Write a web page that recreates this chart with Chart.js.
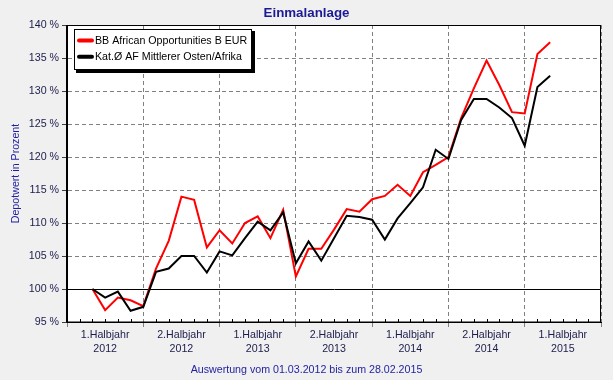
<!DOCTYPE html>
<html>
<head>
<meta charset="utf-8">
<script src="https://cdn.jsdelivr.net/npm/chart.js@4"></script>
<style>
html,body{margin:0;padding:0;background:#F0F0F0;}
#wrap{width:613px;height:380px;position:relative;}
</style>
</head>
<body>
<div id="wrap"><canvas id="c" width="613" height="380"></canvas></div>
<script>
// ---- text ----
const chartTitle = 'Einmalanlage';
const footerText = 'Auswertung vom 01.03.2012 bis zum 28.02.2015';
const yAxisTitle = 'Depotwert in Prozent';
const seriesNames = ['BB African Opportunities B EUR', 'Kat.\u00D8 AF Mittlerer Osten/Afrika'];

// ---- categories (monthly valuation dates) ----
const months = [
  '2012-03','2012-04','2012-05','2012-06','2012-07','2012-08','2012-09','2012-10','2012-11','2012-12',
  '2013-01','2013-02','2013-03','2013-04','2013-05','2013-06','2013-07','2013-08','2013-09','2013-10','2013-11','2013-12',
  '2014-01','2014-02','2014-03','2014-04','2014-05','2014-06','2014-07','2014-08','2014-09','2014-10','2014-11','2014-12',
  '2015-01','2015-02','2015-03'
];

// ---- series values (% of initial investment) ----
const fundValues = [
  100.0, 96.8, 98.7, 98.3, 97.4, 103.1, 107.3, 114.0, 113.5, 106.3,
  108.9, 106.9, 110.0, 111.0, 107.7, 112.0, 101.9, 106.1, 106.1, 109.0, 112.1, 111.7,
  113.6, 114.1, 115.8, 114.1, 117.7, 118.8, 120.0, 125.9, 130.4, 134.6, 130.9, 126.8,
  126.6, 135.6, 137.4
];
const categoryValues = [
  100.0, 98.7, 99.6, 96.7, 97.3, 102.6, 103.1, 105.0, 105.0, 102.5,
  105.7, 105.1, 107.7, 110.2, 108.9, 111.6, 103.9, 107.2, 104.3, 107.7, 111.1, 110.9,
  110.5, 107.5, 110.7, 113.0, 115.4, 121.1, 119.7, 125.6, 128.8, 128.8, 127.5, 125.9,
  121.7, 130.6, 132.3
];

// ---- axis labels ----
const halfYearLabels = [
  ['1.Halbjahr','2012'], ['2.Halbjahr','2012'], ['1.Halbjahr','2013'], ['2.Halbjahr','2013'],
  ['1.Halbjahr','2014'], ['2.Halbjahr','2014'], ['1.Halbjahr','2015']
];
const yTickValues = [95, 100, 105, 110, 115, 120, 125, 130, 135, 140];

// month offset since Jan 2012
function monthOffset(s) {
  const [y, m] = s.split('-').map(Number);
  return (y - 2012) * 12 + (m - 1);
}
const toPoints = vals => vals.map((v, i) => ({ x: monthOffset(months[i]), y: v }));

const FONT = "'Liberation Sans', Arial, sans-serif";
const TXT = '#1c1c4c';
const BLUE = '#1e1ea0';

const decor = {
  id: 'decor',
  beforeDraw(chart) {
    const { ctx, chartArea: a } = chart;
    ctx.save();
    ctx.fillStyle = '#F0F0F0';
    ctx.fillRect(0, 0, chart.width, chart.height);
    ctx.fillStyle = '#FFFFFF';
    ctx.fillRect(a.left, a.top, a.right - a.left, a.bottom - a.top);
    ctx.restore();
  },
  afterDraw(chart) {
    const { ctx, chartArea: a } = chart;
    const xs = chart.scales.x;
    ctx.save();
    // plot frame
    ctx.strokeStyle = '#000';
    ctx.lineWidth = 1;
    ctx.strokeRect(Math.round(a.left) - 0.5, Math.round(a.top) + 0.5, Math.round(a.right - a.left), Math.round(a.bottom - a.top) - 0.5);
    // minor monthly ticks
    ctx.beginPath();
    for (let m = 1; m < 42; m++) {
      if (m % 6 === 0) continue;
      const px = Math.round(xs.getPixelForValue(m)) + 0.5;
      ctx.moveTo(px, a.bottom - 3);
      ctx.lineTo(px, a.bottom);
    }
    ctx.stroke();

    // legend box
    ctx.font = '10.67px ' + FONT;
    const ds = chart.data.datasets;
    let maxW = 0;
    ds.forEach(d => { maxW = Math.max(maxW, ctx.measureText(d.label).width); });
    const bx = a.left + 7, by = a.top + 4;
    const bw = Math.round(21 + maxW + 5), bh = 41;
    ctx.fillStyle = '#000';
    ctx.fillRect(bx + 2, by + 2, bw + 1, bh + 1);
    ctx.fillStyle = '#fff';
    ctx.fillRect(bx, by, bw, bh);
    ctx.strokeStyle = '#000';
    ctx.strokeRect(bx + 0.5, by + 0.5, bw - 1, bh - 1);
    ds.forEach((d, i) => {
      const cy = by + 11.5 + i * 16.3;
      ctx.strokeStyle = d.borderColor;
      ctx.lineWidth = 4;
      ctx.lineCap = 'round';
      ctx.beginPath();
      ctx.moveTo(bx + 5, cy);
      ctx.lineTo(bx + 18, cy);
      ctx.stroke();
      ctx.fillStyle = '#000';
      ctx.textBaseline = 'middle';
      ctx.textAlign = 'left';
      ctx.fillText(d.label, bx + 21, cy + 0.5);
    });

    // title
    ctx.fillStyle = '#1a1a96';
    ctx.font = 'bold 13.33px ' + FONT;
    ctx.textAlign = 'center';
    ctx.textBaseline = 'alphabetic';
    ctx.fillText(chartTitle, chart.width / 2, 17);
    // footer
    ctx.fillStyle = BLUE;
    ctx.font = '10.67px ' + FONT;
    ctx.fillText(footerText, chart.width / 2, 373);
    ctx.restore();
  }
};

new Chart(document.getElementById('c'), {
  type: 'line',
  data: {
    datasets: [
      { label: seriesNames[0], data: toPoints(fundValues), borderColor: '#FF0000', backgroundColor: '#FF0000',
        borderWidth: 2, pointRadius: 0, tension: 0, order: 1 },
      { label: seriesNames[1], data: toPoints(categoryValues), borderColor: '#000000', backgroundColor: '#000000',
        borderWidth: 2, pointRadius: 0, tension: 0, order: 0 }
    ]
  },
  options: {
    responsive: false,
    animation: false,
    devicePixelRatio: 1,
    layout: { padding: { top: 25, right: 12, bottom: 24, left: 0 } },
    plugins: { legend: { display: false }, tooltip: { enabled: false }, title: { display: false } },
    scales: {
      x: {
        type: 'linear', min: 0, max: 42, position: 'bottom', weight: 0,
        afterFit: s => { s.height = 5; },
        ticks: { display: false, stepSize: 6 },
        grid: { color: '#808080', lineWidth: 1, drawTicks: true, tickLength: 5, tickColor: '#808080' },
        border: { display: true, color: '#000', width: 1, dash: [4, 3] }
      },
      xLabels: {
        type: 'category', labels: halfYearLabels, offset: true, position: 'bottom', weight: 1,
        afterFit: s => { s.height = 29; },
        grid: { display: false, drawTicks: false },
        border: { display: false },
        ticks: { color: TXT, font: { family: FONT, size: 10.67, lineHeight: 14 / 10.67 }, padding: 1,
                 maxRotation: 0, autoSkip: false }
      },
      y: {
        type: 'linear', min: 95, max: 140,
        afterFit: s => { s.width = 67; },
        afterBuildTicks: s => { s.ticks = yTickValues.map(v => ({ value: v })); },
        ticks: { callback: v => v + ' %', color: TXT, font: { family: FONT, size: 10.67 }, padding: 3 },
        grid: {
          color: c => (c.tick && c.tick.value === 100) ? '#000000' : '#808080',
          lineWidth: 1, drawTicks: true, tickLength: 5, tickColor: '#404040'
        },
        border: { display: true, color: '#000', width: 1,
                  dash: c => (c.tick && c.tick.value === 100) ? [] : [4, 3] },
        title: { display: true, text: yAxisTitle, color: BLUE, font: { family: FONT, size: 10.67 },
                 padding: { top: 10, bottom: 0 } }
      }
    }
  },
  plugins: [decor]
});
</script>
</body>
</html>
